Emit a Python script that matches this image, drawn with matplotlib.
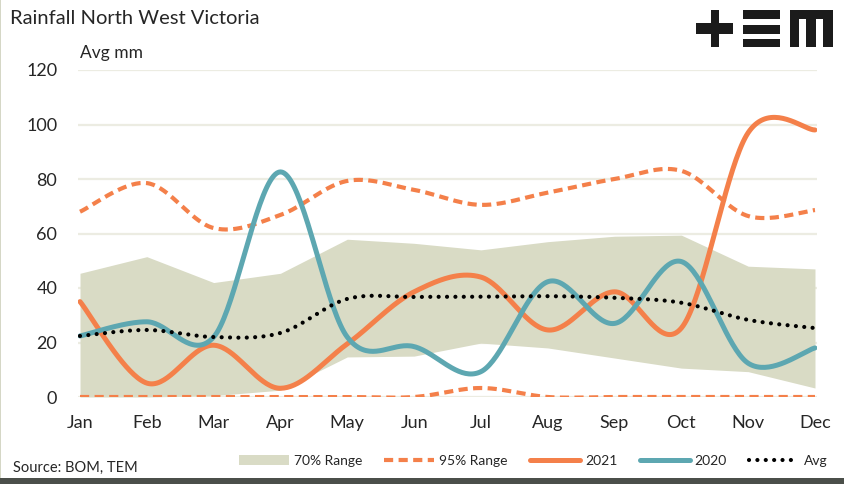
import matplotlib
matplotlib.use("Agg")
import matplotlib.pyplot as plt
import numpy as np
from matplotlib.patches import Rectangle, Patch
from matplotlib.lines import Line2D

# --- data (mm) ---
months = ["Jan", "Feb", "Mar", "Apr", "May", "Jun",
          "Jul", "Aug", "Sep", "Oct", "Nov", "Dec"]
range70_low = [0, 0, 0.5, 2.5, 14.7, 15, 19.8, 18, 14.3, 10.6, 9.3, 3.3]
range70_high = [45.4, 51.5, 42, 45.4, 57.9, 56.4, 54, 57, 59, 59.4, 48, 47]
range95_low = [0, 0, 0, 0, 0, 0, 3.3, 0, 0, 0, 0, 0]
range95_high = [68, 78.5, 62, 66.8, 79.3, 76, 70.5, 75, 80, 83, 66.4, 68.6]
rain_2021 = [35, 5.1, 19, 3.2, 19.5, 38.6, 44, 24.6, 38.6, 25.3, 97, 98]
rain_2020 = [22.4, 27.6, 22, 82.6, 22, 18.5, 9.3, 42.3, 27, 49.7, 12.4, 18]
rain_avg = [22.4, 24.6, 22, 23.5, 36, 36.7, 36.8, 37, 36.4, 34.6, 28.3, 25.3]

ORANGE = "#F4804A"
TEAL = "#5DA7B1"
BAND = "#D9DBC5"
GRID = "#ECECE2"
TEXT = "#262626"


def smooth(y, n=40):
    """Excel-style smoothed line (Catmull-Rom through the points)."""
    x = np.arange(len(y), dtype=float)
    y = np.asarray(y, dtype=float)
    xs, ys = [], []
    for i in range(len(y) - 1):
        i0, i3 = max(i - 1, 0), min(i + 2, len(y) - 1)
        p0 = np.array([x[i], y[i]])
        p3 = np.array([x[i + 1], y[i + 1]])
        p1 = p0 + (np.array([x[i + 1], y[i + 1]]) - np.array([x[i0], y[i0]])) / 6
        p2 = p3 - (np.array([x[i3], y[i3]]) - np.array([x[i], y[i]])) / 6
        t = np.linspace(0, 1, n)[:, None]
        pts = ((1 - t) ** 3) * p0 + 3 * ((1 - t) ** 2) * t * p1 \
            + 3 * (1 - t) * t ** 2 * p2 + t ** 3 * p3
        xs.extend(pts[:, 0])
        ys.extend(pts[:, 1])
    return np.array(xs), np.array(ys)


plt.rcParams["font.family"] = ["Lato", "DejaVu Sans"]

W, H = 845, 484
fig = plt.figure(figsize=(W / 100, H / 100), dpi=100)
ax = fig.add_axes([78 / W, (H - 397) / H, 739 / W, 327 / H])

x = np.arange(len(months))
ax.fill_between(x, range70_low, range70_high, color=BAND, lw=0, zorder=1)

dash95 = (0, (2.2, 1.3))
for series in (range95_high, range95_low):
    sx, sy = smooth(series)
    ax.plot(sx, sy, color=ORANGE, lw=3, linestyle=dash95, zorder=3)

sx, sy = smooth(rain_2021)
ax.plot(sx, sy, color=ORANGE, lw=3.6, solid_capstyle="round", zorder=4)
sx, sy = smooth(rain_2020)
ax.plot(sx, sy, color=TEAL, lw=3.6, solid_capstyle="round", zorder=5)
sx, sy = smooth(rain_avg)
ax.plot(sx, sy, color="black", lw=3, linestyle=(0, (0.01, 2.0)),
        dash_capstyle="round", zorder=6)

ax.set_xlim(-0.03, 11.03)
ax.set_ylim(0, 120)
ax.set_yticks(range(0, 121, 20))
ax.set_xticks(x)
ax.set_xticklabels(months)
ax.tick_params(length=0, labelsize=13, colors=TEXT)
ax.tick_params(axis="y", pad=15)
ax.tick_params(axis="x", pad=13)
ax.grid(axis="y", color=GRID, lw=1.6, zorder=0)
ax.set_axisbelow(True)
for s in ax.spines.values():
    s.set_visible(False)
ax.axhline(0, color="#D9D9D9", lw=1.2, zorder=0.5)

fig.text(10 / W, 1 - 18 / H, "Rainfall North West Victoria", fontsize=14.5,
         color=TEXT, va="center", ha="left")
fig.text(80 / W, 1 - 53 / H, "Avg mm", fontsize=12.5, color=TEXT,
         va="center", ha="left")
fig.text(13 / W, 1 - 468 / H, "Source: BOM, TEM", fontsize=10.5, color=TEXT,
         va="center", ha="left")

handles = [
    Patch(facecolor=BAND, edgecolor="none"),
    Line2D([], [], color=ORANGE, lw=3, linestyle=dash95),
    Line2D([], [], color=ORANGE, lw=3.6, solid_capstyle="round"),
    Line2D([], [], color=TEAL, lw=3.6, solid_capstyle="round"),
    Line2D([], [], color="black", lw=3, linestyle=(0, (0.01, 2.0)),
           dash_capstyle="round"),
]
labels = ["70% Range", "95% Range", "2021", "2020", "Avg"]
fig.legend(handles, labels, loc="center", bbox_to_anchor=(0.631, 1 - 461 / H),
           ncol=5, frameon=False, fontsize=10, handlelength=3.6,
           handletextpad=0.35, columnspacing=1.6, labelcolor=TEXT)


# +EM logo, drawn from rectangles in pixel units
def px_rect(x0, y0, x1, y1, color="#1B1B1B"):
    fig.add_artist(Rectangle((x0 / W, 1 - y1 / H), (x1 - x0) / W, (y1 - y0) / H,
                             transform=fig.transFigure, color=color, lw=0))


px_rect(696, 23.5, 733, 33.5)
px_rect(710.5, 10, 719, 46.5)
px_rect(743, 10, 780, 18.5)
px_rect(743, 25, 780, 34)
px_rect(743, 39, 780, 46.5)
px_rect(790, 10, 833, 18.5)
px_rect(790, 10, 799.5, 46.5)
px_rect(806, 10, 816.5, 46.5)
px_rect(823.5, 10, 833, 46.5)

# frame details
px_rect(0, 478, W, H, color="#4B4F4A")
px_rect(0, 0, 1.5, 478, color="#D5D7C6")

fig.savefig("out.png", dpi=100)
